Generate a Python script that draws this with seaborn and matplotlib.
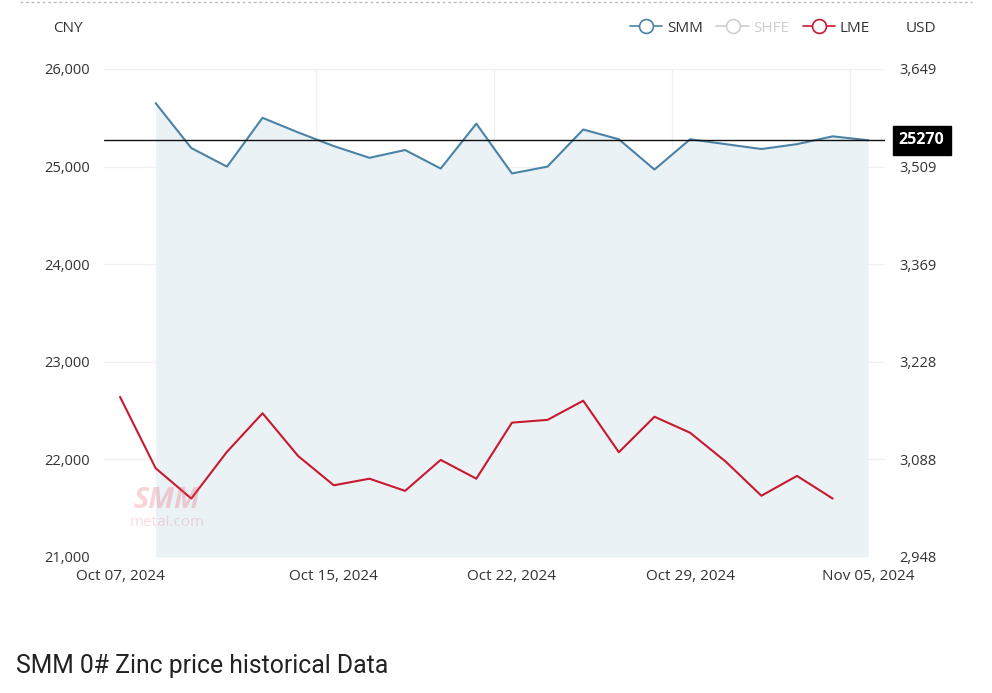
import numpy as np
import pandas as pd
import matplotlib
matplotlib.use("Agg")
import matplotlib.pyplot as plt
from matplotlib.lines import Line2D
import seaborn as sns

# ---------------- data ----------------
dates = ["2024-10-07", "2024-10-08", "2024-10-09", "2024-10-10", "2024-10-11",
         "2024-10-14", "2024-10-15", "2024-10-16", "2024-10-17", "2024-10-18",
         "2024-10-21", "2024-10-22", "2024-10-23", "2024-10-24", "2024-10-25",
         "2024-10-28", "2024-10-29", "2024-10-30", "2024-10-31", "2024-11-01",
         "2024-11-04", "2024-11-05"]
smm_cny = [np.nan, 25650, 25190, 25000, 25500, 25350, 25210, 25090, 25170, 24980,
           25440, 24930, 25000, 25380, 25280, 24970, 25280, 25230, 25180, 25230,
           25310, 25270]
lme_usd = [3178, 3075.5, 3032, 3099, 3154.5, 3093, 3051, 3060.5, 3043, 3087.5,
           3060.5, 3141, 3145, 3172.5, 3098.5, 3149.5, 3126.5, 3085, 3036, 3064.5,
           3032, np.nan]
xtick_labels = ["Oct 07, 2024", "Oct 15, 2024", "Oct 22, 2024", "Oct 29, 2024", "Nov 05, 2024"]
xtick_dates = ["2024-10-07", "2024-10-15", "2024-10-22", "2024-10-29", "2024-11-05"]
left_ticks = [21000, 22000, 23000, 24000, 25000, 26000]
right_tick_labels = ["2,948", "3,088", "3,228", "3,369", "3,509", "3,649"]
right_range = (2948, 3649)
latest_smm = 25270

# ---------------- style ----------------
sns.set_theme(style="white")
plt.rcParams['font.family'] = ['Open Sans', 'DejaVu Sans']

SMM_C = "#4a83a6"
LME_C = "#c8192f"
SHFE_C = "#cfcfcf"
FILL_C = "#eaf2f6"
TXT_C = "#333333"
GRID_C = "#f0f0f0"

df = pd.DataFrame({"date": dates, "SMM": smm_cny, "LME": lme_usd})
df["idx"] = np.arange(len(df))

fig = plt.figure(figsize=(9.92, 6.93), dpi=100)
ax = fig.add_axes([104/992, 1-557/693, 781/992, 488/693])
ax2 = ax.twinx()

xl = (-0.45, 21.47)

# SMM area + line (left axis)
smm_df = df.dropna(subset=["SMM"])
ax.fill_between(smm_df["idx"], smm_df["SMM"], left_ticks[0], color=FILL_C, lw=0, zorder=1)
sns.lineplot(data=smm_df, x="idx", y="SMM", ax=ax, color=SMM_C, lw=1.5, zorder=3)
ax.axhline(latest_smm, color="#111111", lw=1.0, zorder=4)

# LME line (right axis)
lme_df = df.dropna(subset=["LME"])
sns.lineplot(data=lme_df, x="idx", y="LME", ax=ax2, color=LME_C, lw=1.5, zorder=3)

# axes limits/ticks
ax.set_xlim(*xl)
ax.set_ylim(left_ticks[0], left_ticks[-1])
ax.set_yticks(left_ticks)
ax.set_yticklabels([f"{v:,}" for v in left_ticks])
ax2.set_ylim(*right_range)
ax2.set_yticks(np.linspace(right_range[0], right_range[1], len(right_tick_labels)))
ax2.set_yticklabels(right_tick_labels)
tick_pos = [dates.index(d) for d in xtick_dates]
ax.set_xticks(tick_pos)
ax.set_xticklabels(xtick_labels)
ax.set_xlabel("")
ax.set_ylabel("")
ax2.set_ylabel("")

# grid
for v in left_ticks:
    ax.axhline(v, color=GRID_C, lw=1.0, zorder=0)
for p in tick_pos:
    ax.axvline(p - 0.5, color=GRID_C, lw=1.0, zorder=2)

for a in (ax, ax2):
    for s in a.spines.values():
        s.set_visible(False)
ax.set_zorder(ax2.get_zorder() - 1)
ax2.patch.set_visible(False)
ax.patch.set_visible(False)

ax.tick_params(axis="y", length=0, pad=10, labelsize=10.5, labelcolor=TXT_C)
ax.tick_params(axis="x", length=0, pad=9, labelsize=11, labelcolor=TXT_C)
ax2.tick_params(axis="y", length=0, pad=10, labelsize=10.5, labelcolor=TXT_C)
for lab in ax2.get_yticklabels():
    lab.set_horizontalalignment("left")

# latest value badge
ax2.annotate(str(latest_smm), xy=(1.0, (latest_smm - left_ticks[0]) / (left_ticks[-1] - left_ticks[0])),
             xycoords="axes fraction", xytext=(10, 0), textcoords="offset points",
             ha="left", va="center", color="white", fontsize=11.5, fontweight="bold",
             bbox=dict(boxstyle="square,pad=0.4", fc="black", ec="black"))

# watermark
fig.text(167/992, 1-500/693, "SMM", color="#e8505b", alpha=0.25, fontsize=21,
         fontweight="bold", style="italic", ha="center", va="center")
fig.text(167/992, 1-523/693, "metal.com", color="#e8505b", alpha=0.2, fontsize=11,
         ha="center", va="center")

# header texts
fig.text(68/992, 1-29/693, "CNY", color=TXT_C, fontsize=11, ha="center", va="center")
fig.text(921/992, 1-29/693, "USD", color=TXT_C, fontsize=11, ha="center", va="center")

handles = [
    Line2D([0], [0], color=SMM_C, lw=1.2, marker="o", ms=10, mfc="white", mec=SMM_C, mew=1.2),
    Line2D([0], [0], color=SHFE_C, lw=1.2, marker="o", ms=10, mfc="white", mec=SHFE_C, mew=1.2),
    Line2D([0], [0], color=LME_C, lw=1.2, marker="o", ms=10, mfc="white", mec=LME_C, mew=1.2),
]
leg = fig.legend(handles, ["SMM", "SHFE", "LME"], loc="center", bbox_to_anchor=(750/992, 1-28/693),
                 ncol=3, frameon=False, fontsize=11, handlelength=2.1, handletextpad=0.3,
                 columnspacing=0.9)
for t, c in zip(leg.get_texts(), [TXT_C, SHFE_C, TXT_C]):
    t.set_color(c)

# top dotted separator
fig.add_artist(Line2D([20/992, 972/992], [1-1.5/693, 1-1.5/693], color="#bbbbbb", lw=1,
                      ls=(0, (2, 2)), transform=fig.transFigure))

# section title
fig.text(16/992, 1-666/693, "SMM 0# Zinc price historical Data", color="#222222",
         fontsize=17.8, family=["Roboto", "DejaVu Sans"], ha="left", va="center")

fig.savefig("out.png", dpi=100)
